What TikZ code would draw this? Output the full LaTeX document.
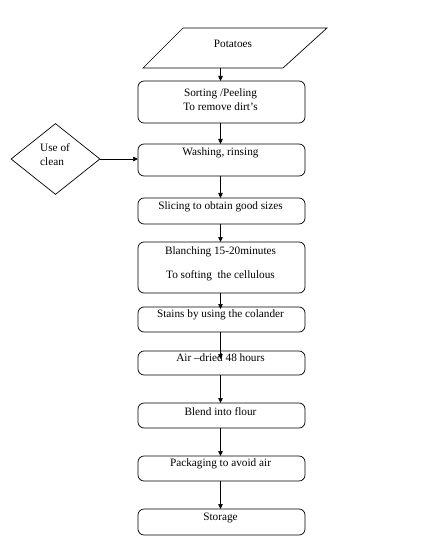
\documentclass[tikz,border=0pt]{standalone}
\usepackage{fontspec}
\setmainfont{Liberation Serif}
\usetikzlibrary{arrows.meta,shapes.geometric}
\begin{document}
\begin{tikzpicture}[x=1bp,y=-1bp,
  boxstyle/.style={draw,line width=0.7bp,rounded corners=6bp,inner sep=0pt},
  lbl/.style={inner sep=0pt,font=\fontsize{11.3}{14}\selectfont},
  arr/.style={line width=0.7bp,-{Triangle[length=5bp,width=4.5bp]}}]
\useasboundingbox (0,0) rectangle (422,547);
% parallelogram
\draw[line width=0.7bp] (183,28) -- (327,28) -- (283,68) -- (143,68) -- cycle;
\coordinate (pbot) at (220.5,68);
\node[lbl] (tpot) at (233,44) {Potatoes};
% boxes
\newcommand{\mybox}[3]{\path[boxstyle] (138,#2) rectangle (305,#3) coordinate (#1se); \coordinate (#1top) at (220.5,#2); \coordinate (#1bot) at (220.5,#3);}
\mybox{b1}{81}{123}
\mybox{b2}{144}{176}
\mybox{b3}{198}{224}
\mybox{b4}{242}{293}
\mybox{b5}{307}{332}
\mybox{b6}{351}{375}
\mybox{b7}{403}{428}
\mybox{b8}{456}{481}
\mybox{b9}{509}{535}
\coordinate (b2left) at (138,159);
\node[lbl,align=center] (t1) at (220.5,100) {Sorting /Peeling\\To remove dirt’s};
\node[lbl] (t2) at (220.5,153) {Washing, rinsing};
\node[lbl] (t3) at (220.5,207) {Slicing to obtain good sizes};
\node[lbl] (t4a) at (220.5,252) {Blanching 15-20minutes};
\node[lbl] (t4b) at (220.5,276) {To softing\ \ the cellulous};
\node[lbl] (t5) at (220.5,315) {Stains by using the colander};
\node[lbl] (t6) at (220.5,358) {Air –dried 48 hours};
\node[lbl] (t7) at (220.5,412) {Blend into flour};
\node[lbl] (t8) at (220.5,464) {Packaging to avoid air};
\node[lbl] (t9) at (220.5,518) {Storage};
% diamond
\node[draw,line width=0.7bp,diamond,minimum width=89bp,minimum height=71bp,inner sep=0pt] (dia) at (55.5,159) {};
\node[lbl,align=left,anchor=west] (tdia) at (40,154.5) {Use of\\clean};
% arrows
\draw[arr] (pbot) -- (b1top);
\draw[arr] (b1bot) -- (b2top);
\draw[arr] (b2bot) -- (b3top);
\draw[arr] (b3bot) -- (b4top);
\draw[arr] (b4bot) -- ([yshift=-2bp]b5top);
\draw[arr] (b5bot) -- ([yshift=-8bp]b6top);
\draw[arr] (b6bot) -- (b7top);
\draw[arr] (b7bot) -- (b8top);
\draw[arr] (b8bot) -- (b9top);
\draw[arr] (dia.east) -- (b2left);
\end{tikzpicture}
\end{document}
